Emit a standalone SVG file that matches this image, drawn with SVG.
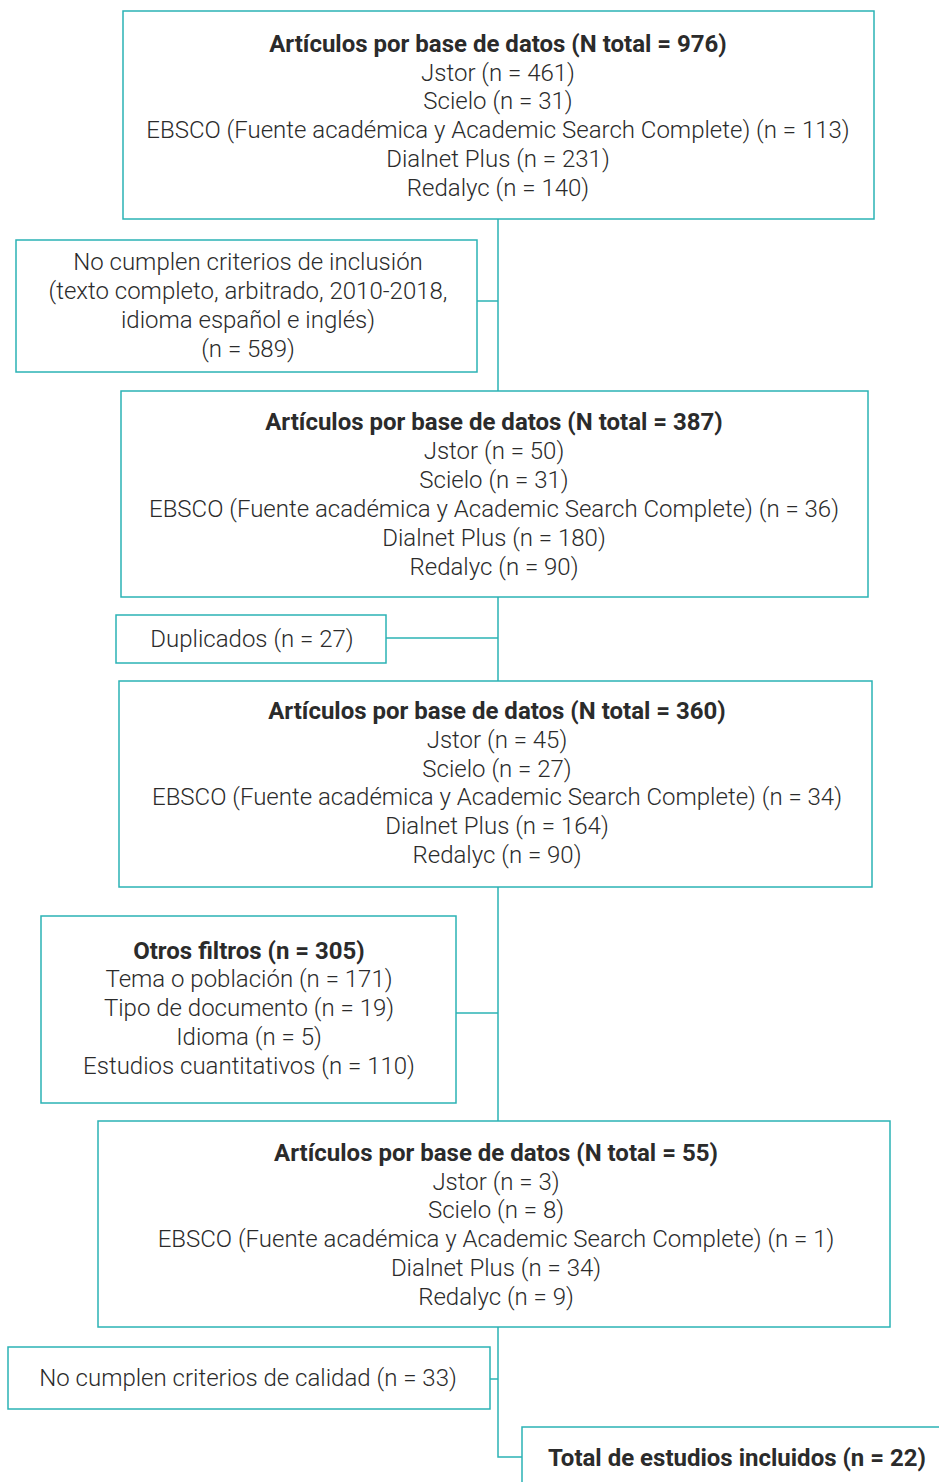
<svg xmlns="http://www.w3.org/2000/svg" width="939" height="1482" viewBox="0 0 939 1482">
<style>
.box{fill:#fff;stroke:#2bb3b5;stroke-width:1.5}
.ln{fill:none;stroke:#2bb3b5;stroke-width:1.5}
text{font-family:Roboto,"Liberation Sans",sans-serif;font-size:24px;font-weight:300;fill:#2b2b2b;text-anchor:middle}
.b{font-weight:700}
</style>
<g id="connectors">
<path class="ln" d="M498 219V1457H522"/>
<path class="ln" d="M477 301H498"/>
<path class="ln" d="M386 638H498"/>
<path class="ln" d="M456 1013H498"/>
<path class="ln" d="M490 1379H498"/>
</g>
<g id="n1">
<rect class="box" x="123" y="11" width="751" height="208"/>
<text x="498" y="52" class="b">Artículos por base de datos (N total = 976)</text>
<text x="498" y="81">Jstor (n = 461)</text>
<text x="498" y="109">Scielo (n = 31)</text>
<text x="498" y="138">EBSCO (Fuente académica y Academic Search Complete) (n = 113)</text>
<text x="498" y="167">Dialnet Plus (n = 231)</text>
<text x="498" y="196">Redalyc (n = 140)</text>
</g>
<g id="n2">
<rect class="box" x="16" y="240" width="461" height="132"/>
<text x="248" y="270">No cumplen criterios de inclusión</text>
<text x="248" y="299">(texto completo, arbitrado, 2010-2018,</text>
<text x="248" y="328">idioma español e inglés)</text>
<text x="248" y="357">(n = 589)</text>
</g>
<g id="n3">
<rect class="box" x="121" y="391" width="747" height="206"/>
<text x="494" y="430" class="b">Artículos por base de datos (N total = 387)</text>
<text x="494" y="459">Jstor (n = 50)</text>
<text x="494" y="488">Scielo (n = 31)</text>
<text x="494" y="517">EBSCO (Fuente académica y Academic Search Complete) (n = 36)</text>
<text x="494" y="546">Dialnet Plus (n = 180)</text>
<text x="494" y="575">Redalyc (n = 90)</text>
</g>
<g id="n4">
<rect class="box" x="116" y="615" width="270" height="48"/>
<text x="252" y="647">Duplicados (n = 27)</text>
</g>
<g id="n5">
<rect class="box" x="119" y="681" width="753" height="206"/>
<text x="497" y="719" class="b">Artículos por base de datos (N total = 360)</text>
<text x="497" y="748">Jstor (n = 45)</text>
<text x="497" y="777">Scielo (n = 27)</text>
<text x="497" y="805">EBSCO (Fuente académica y Academic Search Complete) (n = 34)</text>
<text x="497" y="834">Dialnet Plus (n = 164)</text>
<text x="497" y="863">Redalyc (n = 90)</text>
</g>
<g id="n6">
<rect class="box" x="41" y="916" width="415" height="187"/>
<text x="249" y="959" class="b">Otros filtros (n = 305)</text>
<text x="249" y="987">Tema o población (n = 171)</text>
<text x="249" y="1016">Tipo de documento (n = 19)</text>
<text x="249" y="1045">Idioma (n = 5)</text>
<text x="249" y="1074">Estudios cuantitativos (n = 110)</text>
</g>
<g id="n7">
<rect class="box" x="98" y="1121" width="792" height="206"/>
<text x="496" y="1161" class="b">Artículos por base de datos (N total = 55)</text>
<text x="496" y="1190">Jstor (n = 3)</text>
<text x="496" y="1218">Scielo (n = 8)</text>
<text x="496" y="1247">EBSCO (Fuente académica y Academic Search Complete) (n = 1)</text>
<text x="496" y="1276">Dialnet Plus (n = 34)</text>
<text x="496" y="1305">Redalyc (n = 9)</text>
</g>
<g id="n8">
<rect class="box" x="8" y="1347" width="482" height="62"/>
<text x="248" y="1386">No cumplen criterios de calidad (n = 33)</text>
</g>
<g id="n9">
<rect class="box" x="522" y="1427" width="440" height="80"/>
<text x="737" y="1466" class="b">Total de estudios incluidos (n = 22)</text>
</g>
</svg>
